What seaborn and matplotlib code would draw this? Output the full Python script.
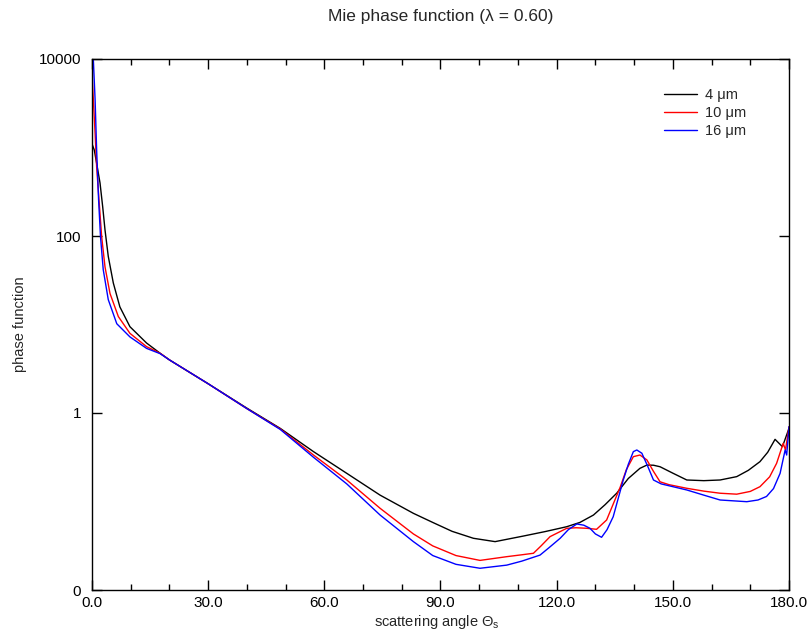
import numpy as np
import pandas as pd
import matplotlib
matplotlib.use("Agg")
import matplotlib.pyplot as plt
import seaborn as sns
from matplotlib.ticker import FixedLocator, FixedFormatter, MultipleLocator, NullLocator

# ---------------- data ----------------
ang_4 = [0, 0.6, 1.2, 2.07, 2.76, 3.36, 4.2, 5.5, 7.2, 9.8, 14.1, 17.6, 20, 30, 40,
         48.6, 57.2, 65.8, 74.4, 83.0, 88, 93, 98.5, 104.1, 111.4, 117, 122.6,
         126, 129.5, 132.5, 135.5, 138.5, 141.5, 143.3, 145, 146.7, 150, 153.6, 158, 162.2,
         166.5, 169.5, 172.5, 174.5, 176.4, 178.3, 180]
val_4 = [1100, 933, 661, 398, 214, 117, 58.9, 29.5, 15.8, 9.44, 6.17, 4.73, 3.98, 2.14, 1.135,
         0.671, 0.366, 0.208, 0.118, 0.0735, 0.058, 0.046, 0.0384, 0.0352, 0.0407, 0.0457, 0.0519,
         0.058, 0.0703, 0.092, 0.124, 0.182, 0.237, 0.258, 0.257, 0.247, 0.209, 0.175, 0.172, 0.175,
         0.191, 0.225, 0.282, 0.36, 0.504, 0.416, 0.671]

ang_10 = [0, 0.35, 0.8, 1.2, 1.8, 2.5, 3.36, 4.65, 6.8, 9.8, 14.1, 17.6, 20, 30, 40,
          48.6, 57.2, 65.8, 74.4, 83.0, 88, 94, 100.2, 107.1, 111, 114.0, 116, 118.3, 122.6,
          125, 127.8, 130.3, 132.9, 136.4, 138, 139.8, 141.5, 143.3, 145, 146.7, 149, 153.6,
          158, 162.2, 166.5, 170, 172.5, 175, 176.8, 178.5, 179.1, 180]
val_10 = [6600, 3467, 1445, 603, 257, 97.7, 44.7, 22.4, 12.3, 7.94, 5.62, 4.73, 3.98, 2.14, 1.12,
          0.661, 0.335, 0.175, 0.0838, 0.043, 0.0315, 0.0245, 0.0216, 0.0238, 0.025, 0.026, 0.0316,
          0.0401, 0.0498, 0.0505, 0.0498, 0.0485, 0.0618, 0.145, 0.229, 0.321, 0.335, 0.295, 0.219,
          0.167, 0.155, 0.141, 0.131, 0.124, 0.121, 0.13, 0.147, 0.19, 0.27, 0.454, 0.382, 0.7]

ang_16 = [0, 0.35, 0.8, 1.2, 1.7, 2.2, 2.9, 4.2, 6.4, 9.8, 14.1, 17.6, 20, 30, 40,
          48.6, 57.2, 65.8, 74.4, 83.0, 88, 94, 100.2, 107.1, 111, 115.7, 118, 120.9, 123, 125.2,
          127, 128.6, 130, 131.6, 133, 134.6, 137.2, 138.5, 139.8, 140.7, 142.0, 143.5, 145.0, 147,
          153.6, 158, 162.2, 169.1, 172, 174.2, 176, 177.7, 179.0, 179.4, 180]
val_16 = [10500, 9770, 3467, 933, 257, 97.7, 41.7, 19.1, 10.2, 7.24, 5.37, 4.68, 3.98, 2.14, 1.12,
          0.653, 0.316, 0.158, 0.0703, 0.0352, 0.0245, 0.0195, 0.0176, 0.0191, 0.0212, 0.0248, 0.030,
          0.0384, 0.048, 0.0557, 0.054, 0.0498, 0.043, 0.0394, 0.048, 0.0673, 0.175, 0.263, 0.366,
          0.382, 0.351, 0.251, 0.175, 0.158, 0.135, 0.118, 0.104, 0.0995, 0.104, 0.114, 0.14, 0.208,
          0.382, 0.335, 0.7]

labels = ["4 μm", "10 μm", "16 μm"]
colors = ["black", "red", "blue"]

y_ticks = [0.01, 1, 100, 10000]
y_ticklabels = ["0", "1", "100", "10000"]
x_ticks = [0, 30, 60, 90, 120, 150, 180]
x_ticklabels = ["0.0", "30.0", "60.0", "90.0", "120.0", "150.0", "180.0"]

df = pd.concat([
    pd.DataFrame({"angle": ang_4, "value": val_4, "size": labels[0]}),
    pd.DataFrame({"angle": ang_10, "value": val_10, "size": labels[1]}),
    pd.DataFrame({"angle": ang_16, "value": val_16, "size": labels[2]}),
], ignore_index=True)

# ---------------- figure ----------------
sns.set_style("ticks")
plt.rcParams["font.family"] = ["Liberation Sans", "DejaVu Sans"]
plt.rcParams["mathtext.fontset"] = "custom"
plt.rcParams["mathtext.rm"] = "Liberation Sans"
plt.rcParams["mathtext.it"] = "Liberation Sans"

W, H = 809, 633
fig = plt.figure(figsize=(W / 100, H / 100), dpi=100)
ax = fig.add_axes([92 / W, (H - 590) / H, (789 - 92) / W, (590 - 59) / H])

sns.lineplot(data=df, x="angle", y="value", hue="size", palette=dict(zip(labels, colors)),
             hue_order=labels, sort=False, estimator=None, linewidth=1.0, ax=ax)

ax.set_yscale("log")
ax.set_xlim(0, 180)
ax.set_ylim(0.01, 10000)

ax.yaxis.set_major_locator(FixedLocator(y_ticks))
ax.yaxis.set_major_formatter(FixedFormatter(y_ticklabels))
ax.yaxis.set_minor_locator(NullLocator())
ax.xaxis.set_major_locator(FixedLocator(x_ticks))
ax.xaxis.set_major_formatter(FixedFormatter(x_ticklabels))
ax.xaxis.set_minor_locator(MultipleLocator(10))

ax.tick_params(axis="both", which="both", direction="in", top=True, right=True,
               colors="black", labelsize=11)
ax.tick_params(axis="x", which="major", length=7, width=1, pad=4)
ax.tick_params(axis="x", which="minor", length=4, width=1)
ax.tick_params(axis="y", which="major", length=7, width=1, pad=8)

for s in ax.spines.values():
    s.set_visible(True)
    s.set_color("black")
    s.set_linewidth(1.0)

ax.set_xlabel("")
ax.set_ylabel("")

leg = ax.legend(loc="upper left", bbox_to_anchor=((664 - 92) / 697, (590 - 88) / 531),
                frameon=False, borderpad=0, borderaxespad=0,
                fontsize=10.5, handlelength=2.25, handletextpad=0.55, labelspacing=0.27)
for line in leg.get_lines():
    line.set_linewidth(1.0)

fig.text(440.5 / W, 1 - 17 / H, "Mie phase function (λ = 0.60)", ha="center", va="center",
         fontsize=12.5)
fig.text(437 / W, 1 - 622 / H, r"scattering angle Θ$_\mathrm{s}$", ha="center", va="center",
         fontsize=10.5)
fig.text(20 / W, 1 - 324 / H, "phase function", ha="center", va="center", rotation=90,
         fontsize=10.5)

fig.savefig("out.png", dpi=100)
